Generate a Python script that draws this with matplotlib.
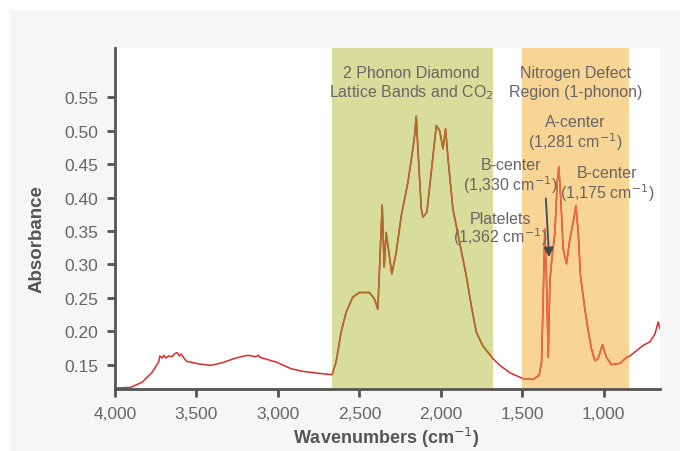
import matplotlib
matplotlib.use("Agg")
import matplotlib.pyplot as plt
from matplotlib.patches import Rectangle

plt.rcParams['font.family'] = ['Liberation Sans', 'DejaVu Sans']

# Spectrum (wavenumber cm^-1, absorbance)
wavenumber = [4000, 3903, 3832, 3771, 3732, 3725, 3710, 3700, 3688, 3670, 3650, 3630, 3617, 3605, 3595,
              3561, 3483, 3410, 3340,
              3258, 3186, 3135, 3120, 3110, 3012, 2920, 2848, 2746, 2667,
              2643, 2612, 2582, 2541, 2500, 2438, 2407, 2387, 2360, 2348, 2336, 2301, 2274, 2243,
              2202, 2172, 2161, 2151, 2141, 2120, 2110, 2086, 2059, 2028, 2007, 1987, 1971, 1956,
              1926, 1885, 1844, 1813, 1783, 1742, 1680, 1638, 1577, 1495, 1434, 1397, 1382, 1372,
              1362, 1351, 1341, 1331, 1321, 1300, 1286, 1276, 1264, 1249, 1229, 1208, 1188, 1171,
              1157, 1143, 1116, 1096, 1076, 1055, 1035, 1008, 984, 953, 901, 860, 840, 799, 758,
              717, 686, 666, 656]
absorbance = [0.115, 0.116, 0.124, 0.139, 0.154, 0.163, 0.160, 0.164, 0.160, 0.163, 0.162, 0.167, 0.168, 0.163, 0.166,
              0.155, 0.151, 0.149, 0.153,
              0.160, 0.164, 0.162, 0.164, 0.161, 0.154, 0.144, 0.140, 0.137, 0.135,
              0.154, 0.199, 0.228, 0.251, 0.258, 0.258, 0.248, 0.233, 0.389, 0.296, 0.348, 0.286, 0.318, 0.373,
              0.423, 0.473, 0.493, 0.522, 0.473, 0.383, 0.371, 0.378, 0.438, 0.508, 0.500, 0.473, 0.503, 0.458,
              0.383, 0.333, 0.283, 0.238, 0.199, 0.178, 0.159, 0.149, 0.138, 0.129, 0.128, 0.134, 0.154, 0.248,
              0.353, 0.273, 0.161, 0.273, 0.303, 0.348, 0.423, 0.446, 0.398, 0.323, 0.301, 0.338, 0.363, 0.388,
              0.348, 0.283, 0.233, 0.201, 0.174, 0.156, 0.159, 0.180, 0.161, 0.150, 0.152, 0.161, 0.163, 0.171, 0.179,
              0.184, 0.196, 0.214, 0.204]

x_ticks = [4000, 3500, 3000, 2500, 2000, 1500, 1000]
x_ticklabels = ["4,000", "3,500", "3,000", "2,500", "2,000", "1,500", "1,000"]
y_ticks = [0.15, 0.20, 0.25, 0.30, 0.35, 0.40, 0.45, 0.50, 0.55]

phonon_band = (2670, 1680)
nitrogen_band = (1500, 845)

fig = plt.figure(figsize=(6.8, 4.52), dpi=100)
fig.patch.set_facecolor('white')
fig.patches.append(Rectangle((10/680, 0), 1 - 10/680, 1 - 11/452, transform=fig.transFigure,
                             facecolor='#f6f6f6', edgecolor='none', zorder=-10))

ax = fig.add_axes([115/680, 62/452, 545/680, 341/452])
ax.set_facecolor('white')
ymin, ymax = 0.1136, 0.624

ax.axvspan(*phonon_band, facecolor='#d8dd9b', lw=0, zorder=0)
ax.axvspan(*nitrogen_band, facecolor='#f9d595', lw=0, zorder=0)

ax.plot(wavenumber, absorbance, color='#e02a2a', lw=1.1, zorder=2)
for band, col in [(phonon_band, '#a8702c'), (nitrogen_band, '#ec6a3e')]:
    clip = Rectangle((band[1], ymin), band[0] - band[1], ymax - ymin, transform=ax.transData,
                     facecolor='none', edgecolor='none')
    ln, = ax.plot(wavenumber, absorbance, color=col, lw=1.1, zorder=3)
    ln.set_clip_path(clip)

ax.set_xlim(4000, 655)
ax.set_ylim(ymin, ymax)
ax.set_xticks(x_ticks)
ax.set_xticklabels(x_ticklabels)
ax.set_yticks(y_ticks)
ax.set_yticklabels([f"{v:.2f}" for v in y_ticks])

for s in ['top', 'right']:
    ax.spines[s].set_visible(False)
for s in ['left', 'bottom']:
    ax.spines[s].set_color('#555555')
    ax.spines[s].set_linewidth(2.0)
    ax.spines[s].set_zorder(5)
ax.tick_params(axis='both', direction='out', length=6, width=2, color='#555555',
               labelcolor='#666666', labelsize=12.5, pad=6)

ax.set_ylabel('Absorbance', fontsize=13.5, fontweight='bold', color='#555555', va='center')
ax.yaxis.set_label_coords(-0.143, 0.443)
ax.set_xlabel('Wavenumbers (cm$^{-1}$)', fontsize=13, fontweight='bold', color='#555555', va='center')
ax.xaxis.set_label_coords(0.498, -0.142)

tc = '#666666'
fs = 11.5
def label(xp, yp, s):
    ax.text(xp/680, 1 - yp/452, s, transform=fig.transFigure, ha='center', va='center',
            fontsize=fs, color=tc, zorder=6)

label(411.7, 73.3, '2 Phonon Diamond')
label(411.7, 92.7, 'Lattice Bands and CO$_2$')
label(575.3, 73.3, 'Nitrogen Defect')
label(575.3, 92.7, 'Region (1-phonon)')
label(575.3, 122.7, 'A-center')
label(575.3, 141.7, '(1,281 cm$^{-1}$)')
label(511, 166, 'B-center')
label(510.7, 185, '(1,330 cm$^{-1}$)')
label(606.7, 174, 'B-center')
label(607, 192.7, '(1,175 cm$^{-1}$)')
label(500, 219, 'Platelets')
label(500, 237.3, '(1,362 cm$^{-1}$)')

ax.annotate('', xy=(549.3/680, 1 - 261/452), xytext=(545.7/680, 1 - 196.7/452),
            xycoords='figure fraction', textcoords='figure fraction',
            arrowprops=dict(arrowstyle='-|>', color='#404850', lw=1.3, mutation_scale=14),
            zorder=7)

fig.savefig('out.png', dpi=100)
